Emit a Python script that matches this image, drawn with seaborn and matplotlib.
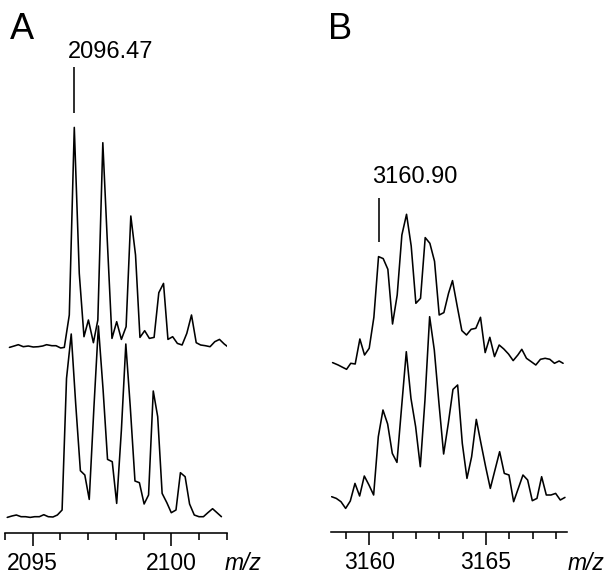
import numpy as np
import pandas as pd
import matplotlib
matplotlib.use("Agg")
import matplotlib.pyplot as plt
import seaborn as sns

# Panel A: m/z 2094-2102, two traces
a_top_mz = [2094.16, 2094.33, 2094.48, 2094.66, 2094.84, 2095.02, 2095.20, 2095.36,
            2095.50, 2095.69, 2095.84, 2096.01, 2096.14, 2096.32, 2096.50, 2096.68,
            2096.85, 2097.01, 2097.19, 2097.35, 2097.53, 2097.69, 2097.86, 2098.03,
            2098.20, 2098.37, 2098.54, 2098.71, 2098.87, 2099.04, 2099.21, 2099.38,
            2099.55, 2099.72, 2099.88, 2100.05, 2100.22, 2100.39, 2100.56, 2100.73,
            2100.90, 2101.06, 2101.23, 2101.40, 2101.57, 2101.74, 2101.91, 2102.07]
a_top_int = [-0.7, 0.7, 2, 0, 0.7, -0.3, 0, 0.7,
             2, 1, 1, -1.3, -0.7, 31.7, 219.3, 73.3,
             10, 26.7, 4, 26.7, 204, 106.7, 8.3, 25,
             7.3, 20, 130.7, 91.7, 9.3, 16, 8.3, 9.3,
             54, 63.3, 7.3, 10, 3.3, 1.7, 13.3, 31.7,
             4, 1.7, 1, 0, 5, 7.3, 2.7, -0.7]

a_bot_mz = [2094.08, 2094.25, 2094.41, 2094.58, 2094.74, 2094.91, 2095.07, 2095.24,
            2095.40, 2095.56, 2095.73, 2095.89, 2096.06, 2096.22, 2096.39, 2096.55,
            2096.72, 2096.88, 2097.04, 2097.21, 2097.37, 2097.54, 2097.70, 2097.87,
            2098.03, 2098.20, 2098.36, 2098.52, 2098.69, 2098.85, 2099.02, 2099.18,
            2099.35, 2099.51, 2099.67, 2099.84, 2100.00, 2100.17, 2100.33, 2100.50,
            2100.66, 2100.83, 2101.00, 2101.16, 2101.32, 2101.49, 2101.65, 2101.81]
a_bot_int = [-0.7, 0.7, 1.7, 0, 0, -0.7, 0, 0,
             2, 0, -0.3, 1.7, 6.7, 138.3, 182.7, 113.3,
             46, 41.7, 17.3, 110, 190.7, 126.7, 57.3, 55,
             13.3, 86.7, 172.7, 110, 35.7, 34, 12.7, 21.7,
             125.7, 100, 23.3, 14, 4, 6.7, 44, 40,
             12.7, 1.7, 0, 0, 4, 8, 4, 0]

# Panel B: m/z 3158-3168, two traces
b_top_mz = [3158.43, 3158.67, 3158.86, 3159.03, 3159.21, 3159.40, 3159.60, 3159.80,
            3160.00, 3160.20, 3160.40, 3160.60, 3160.80, 3161.00, 3161.20, 3161.40,
            3161.60, 3161.80, 3162.00, 3162.20, 3162.40, 3162.60, 3162.80, 3163.00,
            3163.20, 3163.40, 3163.57, 3163.77, 3163.97, 3164.17, 3164.37, 3164.57,
            3164.77, 3164.97, 3165.17, 3165.37, 3165.57, 3165.77, 3165.97, 3166.17,
            3166.37, 3166.54, 3166.74, 3166.94, 3167.14, 3167.34, 3167.54, 3167.74,
            3167.94, 3168.14, 3168.31]
b_top_int = [0.7, -1.7, -4, -6, 0, -0.7, 24.3, 8.3,
             15, 46, 106.7, 104.7, 94, 39.3, 68.3, 128.3,
             149, 117.3, 60, 65, 125.7, 120, 102, 48.3,
             50.7, 70, 82.7, 57.3, 32.7, 28.3, 34, 35,
             46, 10.7, 26, 6.7, 18.3, 14.3, 9.3, 2.7,
             8.3, 14, 5, 1.7, -1.7, 4, 5, 4,
             0, 2.3, 0]

b_bot_mz = [3158.39, 3158.59, 3158.79, 3158.99, 3159.19, 3159.39, 3159.59, 3159.79,
            3159.99, 3160.19, 3160.39, 3160.59, 3160.79, 3160.99, 3161.19, 3161.39,
            3161.59, 3161.79, 3161.99, 3162.19, 3162.39, 3162.59, 3162.79, 3162.99,
            3163.19, 3163.39, 3163.59, 3163.79, 3163.99, 3164.19, 3164.39, 3164.59,
            3164.79, 3164.99, 3165.19, 3165.39, 3165.59, 3165.79, 3165.99, 3166.19,
            3166.39, 3166.59, 3166.79, 3166.99, 3167.19, 3167.39, 3167.59, 3167.79,
            3167.99, 3168.19, 3168.39]
b_bot_int = [0, -1.7, -5, -11.7, -4.3, 13.3, 0.7, 20.7,
             11.7, 1.7, 60, 86.7, 72.7, 43.3, 34.3, 90,
             145, 98.3, 70, 30, 96.7, 180, 146.7, 93.3,
             42.7, 73.3, 107.3, 111.7, 53.3, 18.3, 40, 77.3,
             53.3, 30, 8.3, 26.7, 45, 23.3, 21.7, -5,
             8.3, 21.7, 16.7, -4, -1.7, 20, 1.7, 1.7,
             3.3, -3.3, -0.7]

# annotated peaks
a_label, a_peak_mz = "2096.47", 2096.50
b_label, b_peak_mz = "3160.90", 3160.40

sns.set_theme(style="white")
plt.rcParams['font.family'] = ['Liberation Sans', 'DejaVu Sans']
plt.rcParams['text.color'] = 'black'

W, H = 607, 577
fig = plt.figure(figsize=(W / 100, H / 100), dpi=100)

def px_axes(x0, x1, y_axis, y_top):
    return fig.add_axes([x0 / W, (H - y_axis) / H, (x1 - x0) / W, (y_axis - y_top) / H])

ax_a = px_axes(5, 226.7, 533, 20)
ax_b = px_axes(330.7, 567.3, 532, 20)

def draw_panel(ax, traces, xlim, major, minor, label, peak_mz, lbl_dx, lbl_y, seg):
    for mz, inten, off in traces:
        df = pd.DataFrame({"mz": mz, "y": np.array(inten) + off})
        sns.lineplot(data=df, x="mz", y="y", ax=ax, color="black",
                     linewidth=1.15, estimator=None, sort=True)
    ax.set_xlim(*xlim)
    ax.set_ylim(0, ax.bbox.height)
    ax.set_xticks(major)
    ax.set_xticks(minor, minor=True)
    ax.set_xticklabels([str(m) for m in major])
    ax.set_yticks([])
    ax.set_xlabel("")
    ax.set_ylabel("")
    sns.despine(ax=ax, left=True)
    ax.spines['bottom'].set_color("black")
    ax.spines['bottom'].set_linewidth(1.15)
    ax.tick_params(axis='x', which='major', direction='out', length=9.5, width=1.15,
                   color="black", bottom=True, labelsize=16.5, pad=4, labelcolor="black")
    ax.tick_params(axis='x', which='minor', direction='out', length=4.8, width=1.15,
                   color="black", bottom=True)
    ax.vlines(peak_mz, seg[0], seg[1], color="black", linewidth=1.15)
    ax.text(peak_mz - lbl_dx, lbl_y, label, fontsize=17, ha='left', va='baseline',
            color="black")
    ax.patch.set_alpha(0)

draw_panel(ax_a, [(a_top_mz, a_top_int, 186.3), (a_bot_mz, a_bot_int, 16.3)],
           (2094, 2102), [2095, 2100], list(range(2094, 2103)),
           a_label, a_peak_mz, 0.23, 474.7, (420, 466))
draw_panel(ax_b, [(b_top_mz, b_top_int, 168.7), (b_bot_mz, b_bot_int, 35.3)],
           (3158.35, 3168.49), [3160, 3165], list(range(3159, 3169)),
           b_label, b_peak_mz, 0.27, 349, (290, 334))

# panel letters and axis units
fig.text(10 / W, 1 - 39 / H, "A", fontsize=26, va='baseline', ha='left', color='black')
fig.text(328 / W, 1 - 39 / H, "B", fontsize=26, va='baseline', ha='left', color='black')
fig.text(225 / W, 1 - 570 / H, "m/z", fontsize=16.5, style='italic', va='baseline')
fig.text(568 / W, 1 - 570 / H, "m/z", fontsize=16.5, style='italic', va='baseline')

fig.savefig("out.png", dpi=100, facecolor="white")
